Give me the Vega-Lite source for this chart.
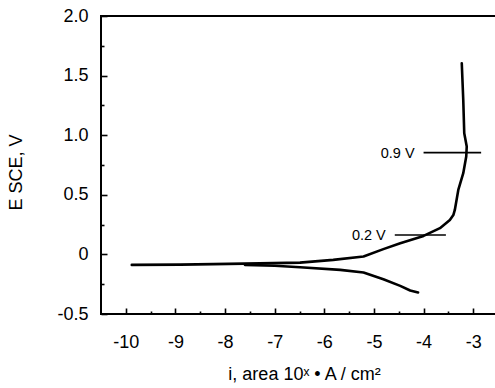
{
  "$schema": "https://vega.github.io/schema/vega-lite/v6.json",
  "autosize": "none",
  "width": 397,
  "height": 298,
  "padding": {"left": 101, "top": 16, "right": 0, "bottom": 74},
  "background": "white",
  "config": {
    "view": {"stroke": "black", "strokeWidth": 2},
    "font": "Liberation Sans",
    "axis": {"labelFont": "Liberation Sans", "titleFont": "Liberation Sans", "labelColor": "black", "titleColor": "black", "tickColor": "black", "grid": false, "domain": false, "titleFontWeight": "normal"}
  },
  "resolve": {"axis": {"x": "independent", "y": "independent"}},
  "datasets": {
    "curve": [
      {"branch": "anodic", "o": 1, "x": -9.88, "E": -0.088},
      {"branch": "anodic", "o": 2, "x": -8.9, "E": -0.086},
      {"branch": "anodic", "o": 3, "x": -8.24, "E": -0.082},
      {"branch": "anodic", "o": 4, "x": -7.3, "E": -0.075},
      {"branch": "anodic", "o": 5, "x": -6.49, "E": -0.069},
      {"branch": "anodic", "o": 6, "x": -5.82, "E": -0.046},
      {"branch": "anodic", "o": 7, "x": -5.21, "E": -0.018},
      {"branch": "anodic", "o": 8, "x": -4.81, "E": 0.044},
      {"branch": "anodic", "o": 9, "x": -4.47, "E": 0.094},
      {"branch": "anodic", "o": 10, "x": -4.0, "E": 0.155},
      {"branch": "anodic", "o": 11, "x": -3.67, "E": 0.22},
      {"branch": "anodic", "o": 12, "x": -3.47, "E": 0.289},
      {"branch": "anodic", "o": 13, "x": -3.4, "E": 0.33},
      {"branch": "anodic", "o": 14, "x": -3.37, "E": 0.373},
      {"branch": "anodic", "o": 15, "x": -3.3, "E": 0.541},
      {"branch": "anodic", "o": 16, "x": -3.2, "E": 0.681},
      {"branch": "anodic", "o": 17, "x": -3.14, "E": 0.821},
      {"branch": "anodic", "o": 18, "x": -3.13, "E": 0.905},
      {"branch": "anodic", "o": 19, "x": -3.18, "E": 1.017},
      {"branch": "anodic", "o": 20, "x": -3.2, "E": 1.296},
      {"branch": "anodic", "o": 21, "x": -3.23, "E": 1.604},
      {"branch": "cathodic", "o": 1, "x": -7.6, "E": -0.088},
      {"branch": "cathodic", "o": 2, "x": -7.0, "E": -0.095},
      {"branch": "cathodic", "o": 3, "x": -6.49, "E": -0.108},
      {"branch": "cathodic", "o": 4, "x": -5.68, "E": -0.13},
      {"branch": "cathodic", "o": 5, "x": -5.21, "E": -0.152},
      {"branch": "cathodic", "o": 6, "x": -4.81, "E": -0.208},
      {"branch": "cathodic", "o": 7, "x": -4.47, "E": -0.264},
      {"branch": "cathodic", "o": 8, "x": -4.27, "E": -0.303},
      {"branch": "cathodic", "o": 9, "x": -4.11, "E": -0.32}
    ],
    "marks": [
      {"label": "0.9 V", "x": -4.0, "x2": -2.84, "E": 0.854},
      {"label": "0.2 V", "x": -4.58, "x2": -3.55, "E": 0.163}
    ]
  },
  "layer": [
    {
      "data": {"name": "curve"},
      "mark": {"type": "line", "color": "black", "strokeWidth": 2.6, "strokeJoin": "round", "strokeCap": "round"},
      "encoding": {
        "x": {
          "field": "x", "type": "quantitative",
          "scale": {"domain": [-10.5, -2.5], "nice": false, "zero": false},
          "axis": {
            "orient": "bottom",
            "offset": -6,
            "values": [-10, -9, -8, -7, -6, -5, -4, -3],
            "labelExpr": "'' + datum.value",
            "tickSize": 6,
            "tickWidth": 1.6,
            "labelFontSize": 18,
            "labelPadding": 19,
            "labelFlush": false,
            "labelOverlap": false,
            "title": "i, area 10ˣ • A / cm²",
            "titleFontSize": 18,
            "titleX": 203,
            "titleY": 71,
            "titleAlign": "center",
            "titleBaseline": "alphabetic"
          }
        },
        "y": {
          "field": "E", "type": "quantitative",
          "scale": {"domain": [-0.5, 2.0], "nice": false, "zero": false},
          "axis": {
            "orient": "left",
            "offset": -6,
            "values": [-0.5, 0, 0.5, 1.0, 1.5, 2.0],
            "labelExpr": "datum.value == 0 ? '0' : (datum.value % 1 == 0 ? datum.value + '.0' : '' + datum.value)",
            "tickSize": 6,
            "tickWidth": 1.6,
            "labelFontSize": 18,
            "labelPadding": 13,
            "labelFlush": false,
            "labelOverlap": false,
            "title": "E SCE, V",
            "titleFontSize": 18,
            "titleX": -91,
            "titleY": 156,
            "titleAlign": "center",
            "titleBaseline": "middle",
            "titleAngle": -90
          }
        },
        "detail": {"field": "branch"},
        "order": {"field": "o", "type": "quantitative"}
      }
    },
    {
      "data": {"name": "marks"},
      "mark": {"type": "rule", "color": "black", "strokeWidth": 1.6},
      "encoding": {
        "x": {
          "field": "x", "type": "quantitative",
          "axis": {"orient": "bottom", "offset": -3, "values": [-9.5, -8.5, -7.5, -6.5, -5.5, -4.5, -3.5], "labels": false, "tickSize": 3, "tickWidth": 1.6, "title": null}
        },
        "x2": {"field": "x2"},
        "y": {
          "field": "E", "type": "quantitative",
          "axis": {"orient": "left", "offset": -3, "values": [-0.25, 0.25, 0.75, 1.25, 1.75], "labels": false, "tickSize": 3, "tickWidth": 1.6, "title": null}
        }
      }
    },
    {
      "data": {"name": "marks"},
      "mark": {"type": "text", "align": "right", "baseline": "middle", "dx": -9, "dy": 1, "fontSize": 14.5, "font": "Liberation Sans", "color": "black"},
      "encoding": {
        "x": {"field": "x", "type": "quantitative", "axis": null},
        "y": {"field": "E", "type": "quantitative", "axis": null},
        "text": {"field": "label"}
      }
    }
  ]
}
